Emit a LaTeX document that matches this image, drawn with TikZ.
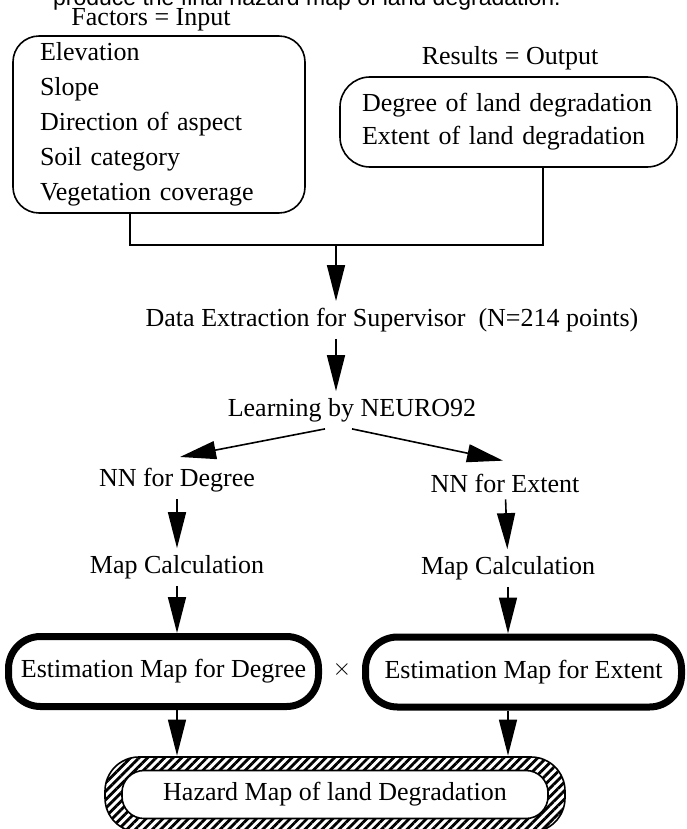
\documentclass[tikz,border=0pt]{standalone}
\usepackage{fontspec}
\setmainfont{Liberation Serif}
\setsansfont{Liberation Sans}
\usetikzlibrary{arrows.meta,patterns.meta}

\begin{document}
\begin{tikzpicture}[x=0.5pt,y=-0.5pt,
  every node/.style={font=\fontsize{13}{15}\selectfont},
  line/.style={line width=0.8pt},
  arr/.style={line width=0.8pt,-{Triangle[length=18pt,width=9pt]}},
  listbox/.style={draw,line width=0.8pt,rounded corners=13pt,align=left},
  estbox/.style={draw,line width=3.5pt,rounded corners=16pt,minimum width=155pt,minimum height=35pt}]
\useasboundingbox (0,0) rectangle (686,829);

\node[font=\sffamily\fontsize{11.5}{13}\selectfont,anchor=base west] (0) at (46,5.5) {produce the final hazard map of land degradation.};

\node (1) at (151,20) {Factors = Input};
\node[listbox,text width=119pt,inner xsep=13.5pt,minimum height=86.5pt,font=\fontsize{13}{17.5}\selectfont] (2) at (159,124.5) {Elevation\\Slope\\Direction of aspect\\Soil category\\Vegetation coverage};
\node (3) at (510,58) {Results = Output};
\node[listbox,text width=146.5pt,inner xsep=11pt,minimum height=45pt,rounded corners=15pt,font=\fontsize{13}{16.5}\selectfont] (4) at (508.5,122) {Degree of land degradation\\Extent of land degradation};

\coordinate (j1) at (130,245);
\coordinate (j2) at (336,245);
\coordinate (j3) at (543,245);
\path[draw,line] (2.south -| j1) -- (j1) -- (j3) -- (4.south -| j3);

\node (5) at (392,320) {Data Extraction for Supervisor\ \ (N=214 points)};
\node (6) at (352,410) {Learning by NEURO92};
\path[draw,arr] (j2) -- (5.north -| j2);
\path[draw,arr] (5.south -| j2) -- (6.north -| j2);

\node (7) at (177,480) {NN for Degree};
\node (8) at (505,483) {NN for Extent};
\path[draw,arr] ([xshift=-13.5pt]6.south) -- ([xshift=1.5pt,yshift=2pt]7.north);
\path[draw,arr] (6.south) -- ([xshift=-1pt,yshift=3pt]8.north);

\node (9) at (177,567) {Map Calculation};
\node (10) at (508,568) {Map Calculation};
\path[draw,arr] (7) -- (9);
\path[draw,arr] (8) -- (10);

\node[estbox] (11) at (163.5,671.5) {Estimation Map for Degree};
\node[estbox,minimum width=158pt] (12) at (523.5,672) {Estimation Map for Extent};
\node (13) at (342,669) {$\times$};
\path[draw,arr] (9) -- (9 |- 11.north);
\path[draw,arr] (10) -- (10 |- 12.north);

\node[draw,line width=0.8pt,rounded corners=17pt,minimum width=230pt,minimum height=37.5pt,pattern={Lines[angle=45,distance=3pt,line width=1.4pt]}] (14) at (335,794.5) {};
\node[draw,fill=white,line width=0.8pt,rounded corners=11pt,minimum width=213pt,minimum height=24pt] (15) at (14) {Hazard Map of land Degradation};
\path[draw,arr] (11.south -| 9) -- (14.north -| 9);
\path[draw,arr] (12.south -| 10) -- (14.north -| 10);
\end{tikzpicture}
\end{document}
